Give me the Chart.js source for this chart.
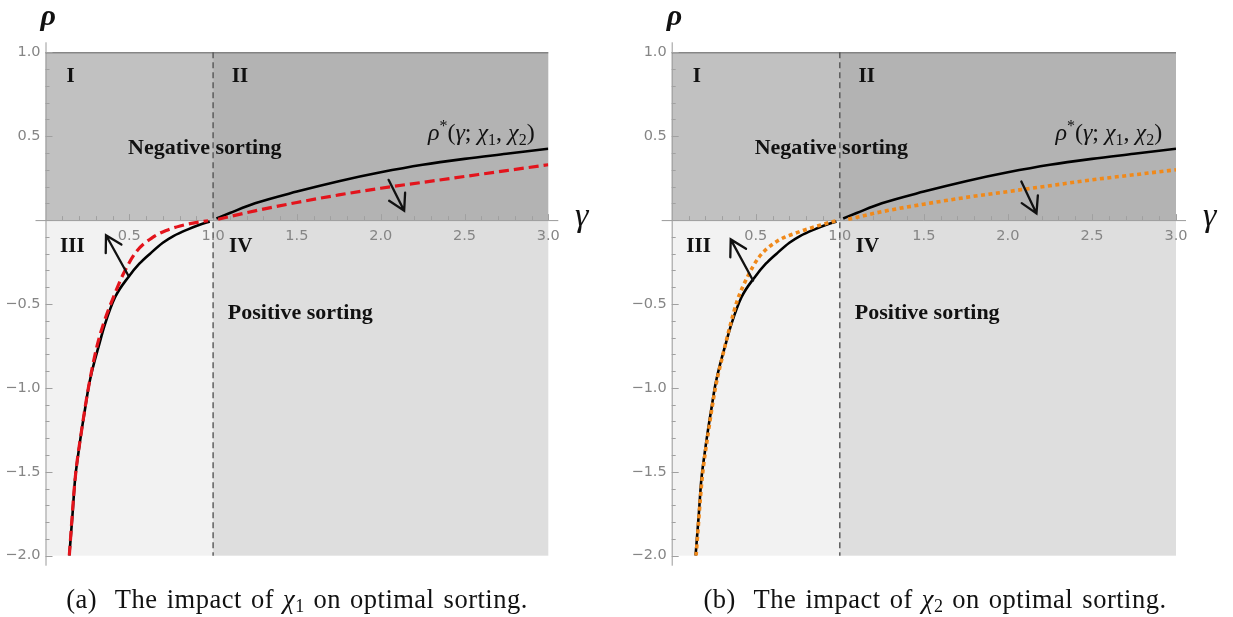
<!DOCTYPE html>
<html lang="en">
<head>
<meta charset="UTF-8">
<title>Optimal sorting</title>
<script src="https://cdn.jsdelivr.net/npm/chart.js"></script>
<style>
  body { margin: 0; background: #fff; width: 1233px; height: 617px; overflow: hidden; position: relative; }
  .panel { position: absolute; top: 0; width: 616px; height: 617px; }
  .caption { position: absolute; top: 584px; font-family: "Liberation Serif", serif; font-size: 26.5px; line-height: 30px;
             letter-spacing: 0.5px; word-spacing: 2px; white-space: nowrap; transform: translateX(-50%); color: #111; }
  .caption sub { font-size: 18px; line-height: 0; vertical-align: -4px; letter-spacing: 0; }
</style>
</head>
<body>
<div class="panel" style="left:0"><canvas id="chartA"></canvas></div>
<div class="panel" style="left:617px"><canvas id="chartB"></canvas></div>
<div class="caption" style="left:297px">(a)&nbsp; The impact of <i>χ</i><sub>1</sub> on optimal sorting.</div>
<div class="caption" style="left:935px">(b)&nbsp; The impact of <i>χ</i><sub>2</sub> on optimal sorting.</div>

<script>
// rho* curve (black), both branches
const starGammaLo = [0.142, 0.16, 0.176, 0.196, 0.216, 0.24, 0.256, 0.285, 0.315, 0.355, 0.415, 0.494, 0.56, 0.624, 0.70, 0.763, 0.85, 0.92, 0.98];
const starRhoLo   = [-2.0, -1.77, -1.55, -1.39, -1.25, -1.10, -1.0, -0.87, -0.76, -0.62, -0.46, -0.34, -0.26, -0.20, -0.135, -0.095, -0.055, -0.028, -0.008];
const starGammaHi = [1.02, 1.1, 1.25, 1.5, 1.75, 2.0, 2.25, 2.5, 2.75, 3.0];
const starRhoHi   = [0.01, 0.042, 0.1, 0.17, 0.232, 0.285, 0.33, 0.365, 0.395, 0.425];

// shifted curve after a change in chi1 (red dashed)
const chi1GammaLo = [0.142, 0.176, 0.216, 0.256, 0.305, 0.345, 0.405, 0.465, 0.544, 0.644, 0.72, 0.803, 0.88, 0.97];
const chi1RhoLo   = [-2.0, -1.55, -1.25, -1.0, -0.76, -0.62, -0.46, -0.32, -0.185, -0.10, -0.062, -0.035, -0.018, -0.004];
const chi1GammaHi = [1.03, 1.25, 1.5, 1.75, 2.0, 2.25, 2.5, 2.75, 3.0];
const chi1RhoHi   = [0.005, 0.055, 0.105, 0.15, 0.19, 0.225, 0.26, 0.295, 0.33];

// shifted curve after a change in chi2 (orange dotted)
const chi2GammaLo = [0.145, 0.18, 0.22, 0.26, 0.31, 0.35, 0.39, 0.45, 0.52, 0.62, 0.758, 0.85, 0.936, 0.975];
const chi2RhoLo   = [-2.0, -1.55, -1.25, -1.0, -0.78, -0.62, -0.48, -0.34, -0.22, -0.13, -0.07, -0.04, -0.015, -0.005];
const chi2GammaHi = [1.05, 1.25, 1.5, 1.75, 2.0, 2.25, 2.5, 2.75, 3.0];
const chi2RhoHi   = [0.005, 0.05, 0.095, 0.135, 0.17, 0.205, 0.24, 0.27, 0.30];

// tick labels
const xTickValues = [0.5, 1.0, 1.5, 2.0, 2.5, 3.0];
const xTickLabels = ['0.5', '1.0', '1.5', '2.0', '2.5', '3.0'];
const yTickValues = [1.0, 0.5, -0.5, -1.0, -1.5, -2.0];
const yTickLabels = ['1.0', '0.5', '\u22120.5', '\u22121.0', '\u22121.5', '\u22122.0'];

// region annotations
const regionLabels = ['I', 'II', 'III', 'IV'];
const regionGamma  = [0.15, 1.16, 0.16, 1.165];
const regionRho    = [0.855, 0.855, -0.16, -0.16];

// arrows showing the shift: [gamma from, rho from, gamma to, rho to]
const arrowsA = [[0.494, -0.33, 0.361, -0.09], [2.047, 0.24, 2.14, 0.056]];
const arrowsB = [[0.484, -0.36, 0.351, -0.115], [2.08, 0.23, 2.17, 0.04]];

const pts = (xs, ys) => xs.map((x, i) => ({ x: x, y: ys[i] }));

function drawArrow(ctx, x1, y1, x2, y2) {
  const ang = Math.atan2(y1 - y2, x1 - x2), L = 18, s = 0.52;
  ctx.beginPath();
  ctx.moveTo(x1, y1); ctx.lineTo(x2, y2);
  ctx.moveTo(x2 + L * Math.cos(ang - s), y2 + L * Math.sin(ang - s));
  ctx.lineTo(x2, y2);
  ctx.lineTo(x2 + L * Math.cos(ang + s), y2 + L * Math.sin(ang + s));
  ctx.stroke();
}

// rho*(gamma; chi1, chi2) with sub/superscripts
function drawFormula(ctx, cx, cy) {
  const size = 24, fam = '"Liberation Serif", serif';
  const parts = [
    ['ρ', 'i', 0], ['*', 'n', -1], ['(', 'n', 0], ['γ', 'i', 0], ['; ', 'n', 0],
    ['χ', 'i', 0], ['1', 'n', 1], [', ', 'n', 0], ['χ', 'i', 0], ['2', 'n', 1], [')', 'n', 0]
  ];
  const fontOf = p => (p[1] === 'i' ? 'italic ' : '') + (p[2] ? Math.round(size * 0.68) : size) + 'px ' + fam;
  let w = 0;
  parts.forEach(p => { ctx.font = fontOf(p); w += ctx.measureText(p[0]).width; });
  let x = cx - w / 2;
  ctx.textAlign = 'left';
  ctx.textBaseline = 'alphabetic';
  parts.forEach(p => {
    ctx.font = fontOf(p);
    const dy = p[2] === -1 ? -9 : (p[2] === 1 ? 5 : 0);
    ctx.fillText(p[0], x, cy + 8 + dy);
    x += ctx.measureText(p[0]).width;
  });
}

const decor = {
  id: 'decor',
  beforeDatasetsDraw(chart) {
    const { ctx, scales: { x, y } } = chart;
    const x0 = x.getPixelForValue(0), x1 = x.getPixelForValue(1), x3 = x.getPixelForValue(3);
    const yT = y.getPixelForValue(1), y0 = y.getPixelForValue(0), yB = y.getPixelForValue(-2);
    ctx.save();
    ctx.fillStyle = '#c1c1c1'; ctx.fillRect(x0, yT, x1 - x0, y0 - yT);
    ctx.fillStyle = '#b3b3b3'; ctx.fillRect(x1, yT, x3 - x1, y0 - yT);
    ctx.fillStyle = '#f2f2f2'; ctx.fillRect(x0, y0, x1 - x0, yB - y0);
    ctx.fillStyle = '#dedede'; ctx.fillRect(x1, y0, x3 - x1, yB - y0);

    // axes and frame
    ctx.lineWidth = 1;
    ctx.strokeStyle = '#9a9a9a';
    ctx.beginPath();
    ctx.moveTo(x0 + 0.5, yT - 10); ctx.lineTo(x0 + 0.5, yB + 10);
    ctx.moveTo(x0 - 10, y0 + 0.5); ctx.lineTo(x3 + 10, y0 + 0.5);
    ctx.stroke();
    ctx.strokeStyle = '#666';
    ctx.beginPath(); ctx.moveTo(x0, yT + 0.5); ctx.lineTo(x3, yT + 0.5); ctx.stroke();

    // ticks
    ctx.strokeStyle = '#a0a0a0';
    ctx.beginPath();
    for (let k = -20; k <= 10; k++) {
      const py = Math.round(y.getPixelForValue(k / 10)) + 0.5;
      const len = k % 5 === 0 ? 7 : 4;
      ctx.moveTo(x0, py); ctx.lineTo(x0 + len, py);
    }
    for (let k = 1; k <= 30; k++) {
      const px = Math.round(x.getPixelForValue(k / 10)) + 0.5;
      const len = k % 5 === 0 ? 6 : 4;
      ctx.moveTo(px, y0); ctx.lineTo(px, y0 - len);
    }
    ctx.stroke();

    // tick labels
    ctx.fillStyle = '#858585';
    ctx.font = '14.5px "DejaVu Sans", sans-serif';
    ctx.textAlign = 'right'; ctx.textBaseline = 'middle';
    yTickValues.forEach((v, i) => ctx.fillText(yTickLabels[i], x0 - 5, y.getPixelForValue(v)));
    ctx.textAlign = 'center';
    xTickValues.forEach((v, i) => ctx.fillText(xTickLabels[i], x.getPixelForValue(v), y0 + 16));

    // gamma = 1 boundary
    ctx.strokeStyle = '#555';
    ctx.lineWidth = 1.4;
    ctx.setLineDash([6, 4]);
    ctx.beginPath(); ctx.moveTo(x1, yT); ctx.lineTo(x1, yB); ctx.stroke();
    ctx.restore();
  },
  afterDatasetsDraw(chart, args, opts) {
    const { ctx, scales: { x, y } } = chart;
    ctx.save();
    ctx.fillStyle = '#111';
    ctx.textAlign = 'center'; ctx.textBaseline = 'middle';
    ctx.font = 'bold 21px "Liberation Serif", serif';
    regionLabels.forEach((t, i) => ctx.fillText(t, x.getPixelForValue(regionGamma[i]), y.getPixelForValue(regionRho[i])));
    ctx.font = 'bold 22px "Liberation Serif", serif';
    ctx.fillText('Negative sorting', x.getPixelForValue(0.95), y.getPixelForValue(0.428));
    ctx.fillText('Positive sorting', x.getPixelForValue(1.52), y.getPixelForValue(-0.555));

    drawFormula(ctx, x.getPixelForValue(2.6), y.getPixelForValue(0.527));

    ctx.textBaseline = 'alphabetic';
    ctx.font = 'italic bold 30px "Liberation Serif", serif';
    ctx.fillText('ρ', x.getPixelForValue(-0.03), y.getPixelForValue(1.165));
    ctx.font = 'italic 34px "Liberation Serif", serif';
    ctx.fillText('γ', x.getPixelForValue(3.16), y.getPixelForValue(-0.036));

    ctx.strokeStyle = '#111';
    ctx.lineWidth = 2.3;
    ctx.lineCap = 'round';
    opts.arrows.forEach(a => drawArrow(ctx,
      x.getPixelForValue(a[0]), y.getPixelForValue(a[1]),
      x.getPixelForValue(a[2]), y.getPixelForValue(a[3])));
    ctx.restore();
  }
};

function curve(data, color, width, dash, order) {
  return {
    data: data, borderColor: color, borderWidth: width, borderDash: dash,
    showLine: true, pointRadius: 0, cubicInterpolationMode: 'monotone', order: order, fill: false
  };
}

function makePanel(id, shiftLo, shiftHi, color, dash, width, arrows, pad) {
  return new Chart(document.getElementById(id), {
    type: 'scatter',
    data: {
      datasets: [
        curve(shiftLo, color, width, dash, 1),
        curve(shiftHi, color, width, dash, 1),
        curve(pts(starGammaLo, starRhoLo), '#000', 2.6, [], 2),
        curve(pts(starGammaHi, starRhoHi), '#000', 2.6, [], 2)
      ]
    },
    options: {
      responsive: true,
      maintainAspectRatio: false,
      animation: false,
      layout: { padding: pad },
      scales: {
        x: { type: 'linear', min: 0, max: 3, display: false },
        y: { type: 'linear', min: -2, max: 1, display: false }
      },
      plugins: { legend: { display: false }, tooltip: { enabled: false }, decor: { arrows: arrows } }
    },
    plugins: [decor]
  });
}

makePanel('chartA', pts(chi1GammaLo, chi1RhoLo), pts(chi1GammaHi, chi1RhoHi), '#e3141c', [10, 5], 3.2, arrowsA,
  { left: 45.5, right: 67.7, top: 52.3, bottom: 61.3 });
makePanel('chartB', pts(chi2GammaLo, chi2RhoLo), pts(chi2GammaHi, chi2RhoHi), '#f0891a', [4, 3.5], 3.6, arrowsB,
  { left: 54.7, right: 57, top: 52.3, bottom: 61.3 });
</script>
</body>
</html>
